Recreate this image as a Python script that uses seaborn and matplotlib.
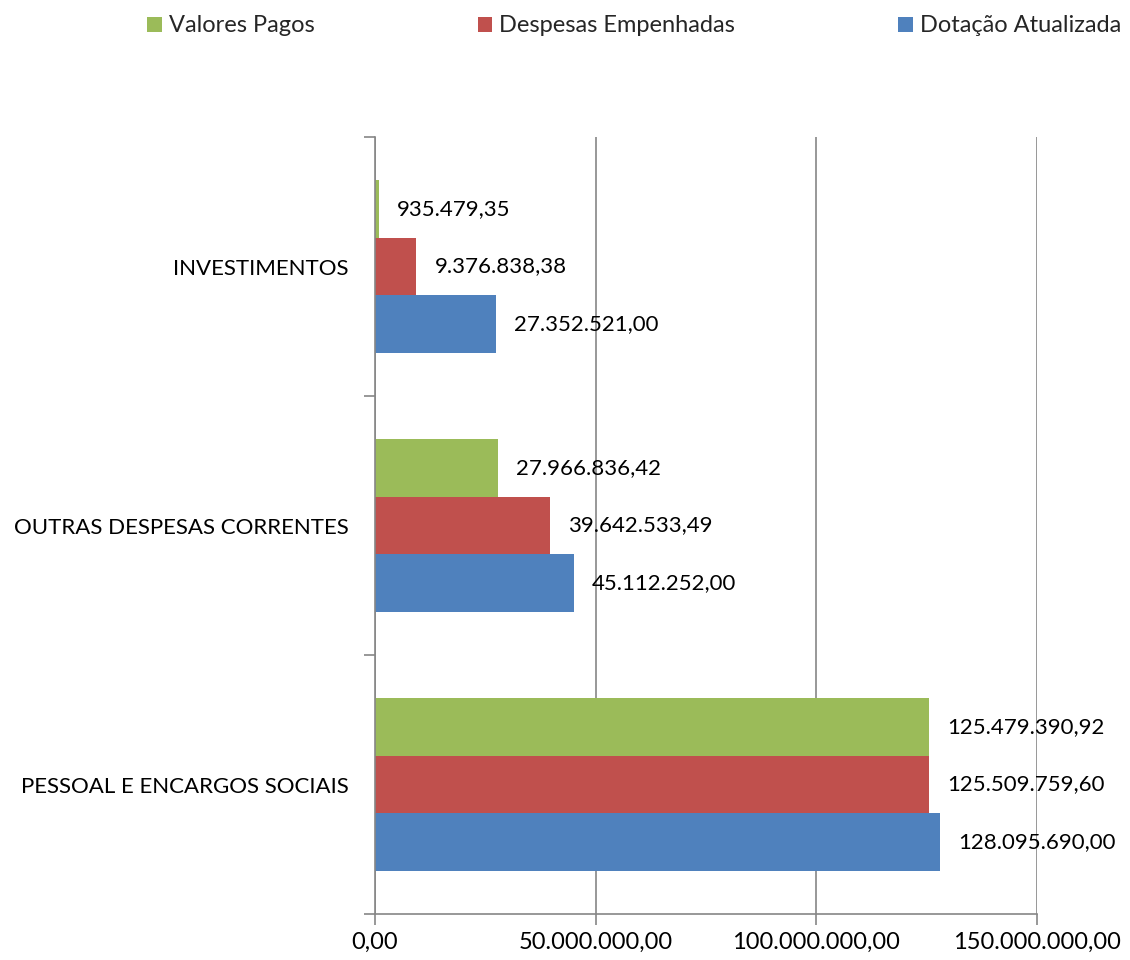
import matplotlib
matplotlib.use("Agg")
import matplotlib.pyplot as plt
import seaborn as sns
import pandas as pd
from matplotlib.ticker import FuncFormatter, FixedLocator
from matplotlib.patches import Patch

categories = ["INVESTIMENTOS", "OUTRAS DESPESAS CORRENTES", "PESSOAL E ENCARGOS SOCIAIS"]
series = ["Valores Pagos", "Despesas Empenhadas", "Dotação Atualizada"]
valores_pagos = [935479.35, 27966836.42, 125479390.92]
despesas_empenhadas = [9376838.38, 39642533.49, 125509759.60]
dotacao_atualizada = [27352521.00, 45112252.00, 128095690.00]
colors = ["#9BBB59", "#C0504D", "#4F81BD"]
xticks = [0, 50000000, 100000000, 150000000]

sns.set_theme(style="white")
plt.rcParams["font.family"] = ["Lato", "DejaVu Sans"]

rows = []
for s, vals in zip(series, [valores_pagos, despesas_empenhadas, dotacao_atualizada]):
    for c, v in zip(categories, vals):
        rows.append({"cat": c, "serie": s, "valor": v})
df = pd.DataFrame(rows)

def br(v, dec=2):
    s = f"{v:,.{dec}f}"
    return s.replace(",", "X").replace(".", ",").replace("X", ".")

fig = plt.figure(figsize=(11.3, 9.6), dpi=100)
ax = fig.add_axes([375/1130, 1-914/960, (1037-375)/1130, (914-137)/960])
sns.barplot(data=df, y="cat", x="valor", hue="serie", order=categories, hue_order=series,
            palette=colors, orient="h", width=0.667, saturation=1, ax=ax, legend=False,
            edgecolor="none")

ax.set_xlim(0, 150000000)
ax.set_ylim(2.5, -0.5)
ax.set_xlabel("")
ax.set_ylabel("")
ax.xaxis.set_major_locator(FixedLocator(xticks))
ax.xaxis.set_major_formatter(FuncFormatter(lambda v, p: br(v)))
ax.grid(axis="x", color="#868686", linewidth=1.2)
ax.set_axisbelow(True)
for sp in ["top", "right"]:
    ax.spines[sp].set_visible(False)
for sp in ["left", "bottom"]:
    ax.spines[sp].set_color("#868686")
    ax.spines[sp].set_linewidth(1.2)

ax.tick_params(axis="x", which="major", length=8, width=1.2, color="#868686", direction="out",
               bottom=True, labelsize=17, pad=5, labelcolor="black")
ax.tick_params(axis="y", which="major", length=0, labelsize=16, pad=19, labelcolor="black")
ax.yaxis.set_minor_locator(FixedLocator([-0.5, 0.5, 1.5, 2.5]))
ax.tick_params(axis="y", which="minor", length=8, width=1.2, color="#868686", direction="out", left=True)

for cont in ax.containers:
    for bar in cont:
        w = bar.get_width()
        y = bar.get_y() + bar.get_height() / 2
        ax.annotate(br(w), (w, y), xytext=(13, 0), textcoords="offset points",
                    ha="left", va="center", fontsize=16, color="black")

handles = [Patch(facecolor=c, edgecolor="none") for c in colors]
fig.legend(handles, series, loc="upper left", bbox_to_anchor=(126/1130, 1.006), ncol=3,
           frameon=False, fontsize=17, handlelength=0.62, handleheight=0.62, handletextpad=0.3,
           columnspacing=6.9)

fig.savefig("out.png", dpi=100, facecolor="white")
